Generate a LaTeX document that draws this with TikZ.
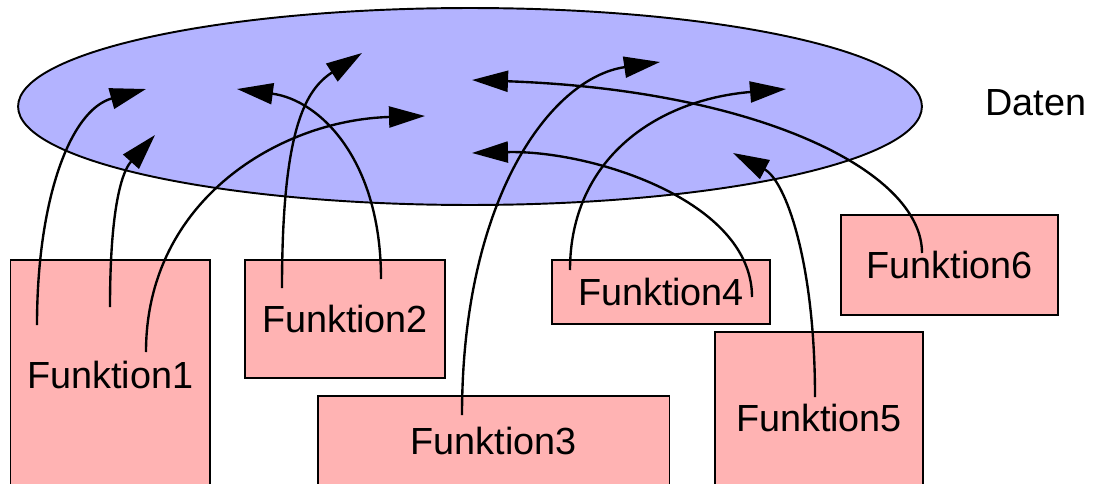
\documentclass[tikz,border=0pt]{standalone}
\usepackage{fontspec}
\setmainfont{Liberation Sans}
\usetikzlibrary{arrows.meta,shapes.geometric}
\definecolor{datablue}{RGB}{179,179,255}
\definecolor{boxred}{RGB}{255,179,179}
\begin{document}
\begin{tikzpicture}[x=0.02cm,y=-0.02cm,
  lbl/.style={font=\fontsize{21.5}{25}\selectfont},
  box/.style={draw=black, fill=boxred, line width=1.1pt, inner sep=0pt, lbl},
  link/.style={line width=1.35pt, -{Triangle[length=0.72cm,width=0.42cm]}}]
\useasboundingbox (0,0) rectangle (1094,483);
% data store
\node[ellipse, draw=black, fill=datablue, line width=1.1pt, inner sep=0pt,
      minimum width=18.08cm, minimum height=3.94cm] (data) at (470,106.5) {};
\node[lbl] (datenlbl) at (1036,103) {Daten};
% functions
\node[box, minimum width=3.99cm, minimum height=4.6cm]  (f1) at (110.25,375) {Funktion1};
\node[box, minimum width=4cm,    minimum height=2.36cm] (f2) at (345,319)    {Funktion2};
\node[box, minimum width=7.04cm, minimum height=1.8cm]  (f3) at (493.5,441)  {Funktion3};
\node[box, minimum width=4.36cm, minimum height=1.28cm] (f4) at (661,292)    {Funktion4};
\node[box, minimum width=4.16cm, minimum height=3.44cm] (f5) at (819,418)    {Funktion5};
\node[box, minimum width=4.34cm, minimum height=2cm]    (f6) at (949.5,265)  {Funktion6};
% connector ends
\coordinate (s1) at (37,325);   \coordinate (t1) at (146,89);
\coordinate (s2) at (110,307);  \coordinate (t2) at (155,135);
\coordinate (s3) at (146,352);  \coordinate (t3) at (425,116);
\coordinate (s4) at (282,288);  \coordinate (t4) at (362,53);
\coordinate (s5) at (381,279);  \coordinate (t5) at (237,89);
\coordinate (s6) at (462,415);  \coordinate (t6) at (660,62);
\coordinate (s7) at (570,270);  \coordinate (t7) at (786,89);
\coordinate (s8) at (752,297);  \coordinate (t8) at (472,153);
\coordinate (s9) at (815,397);  \coordinate (t9) at (733,153);
\coordinate (s10) at (922,253); \coordinate (t10) at (472,80);
% connectors
\draw[link] (s1) .. controls (37,200) and (70,110) .. (t1);
\draw[link] (s2) .. controls (110,185) and (128,165) .. (t2);
\draw[link] (s3) .. controls (146,200) and (280,120) .. (t3);
\draw[link] (s4) .. controls (282,130) and (305,90) .. (t4);
\draw[link] (s5) .. controls (381,160) and (320,100) .. (t5);
\draw[link] (s6) .. controls (462,200) and (550,78) .. (t6);
\draw[link] (s7) .. controls (570,160) and (655,100) .. (t7);
\draw[link] (s8) .. controls (752,200) and (590,150) .. (t8);
\draw[link] (s9) .. controls (815,260) and (785,180) .. (t9);
\draw[link] (s10) .. controls (922,170) and (755,90) .. (t10);
\end{tikzpicture}
\end{document}
